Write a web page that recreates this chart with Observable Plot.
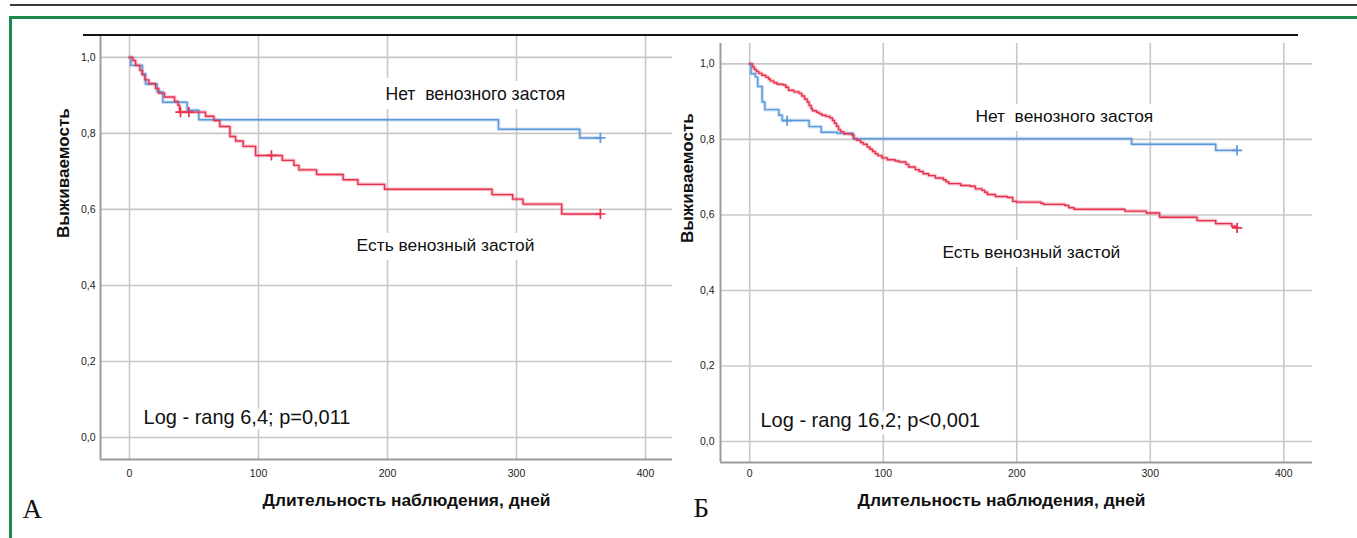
<!DOCTYPE html>
<html><head><meta charset="utf-8">
<script src="https://cdn.jsdelivr.net/npm/d3@7"></script>
<script src="https://cdn.jsdelivr.net/npm/@observablehq/plot@0.6"></script>
<style>
body{margin:0;background:#fff;}
#wrap{position:relative;width:1357px;height:538px;overflow:hidden;background:#fff;}
.abs{position:absolute;}
svg text{white-space:pre;}
</style></head><body>
<div id="wrap">
 <div id="pA" class="abs" style="left:0;top:0"></div>
 <div id="pB" class="abs" style="left:680px;top:0"></div>
 <div class="abs" style="left:10px;top:4px;width:1347px;height:2px;background:#3a3a3a"></div>
 <div class="abs" style="left:9px;top:16px;width:1348px;height:3px;background:#1b8a4c"></div>
 <div class="abs" style="left:9px;top:16px;width:3px;height:530px;background:#1b8a4c"></div>
 <div class="abs" style="left:83px;top:34px;width:1215px;height:2px;background:#111"></div>
</div>
<script>
// ---- data ----
const xTicks = [0, 100, 200, 300, 400];
const yTicks = [0, 0.2, 0.4, 0.6, 0.8, 1.0];
const xLabel = "Длительность наблюдения, дней";
const yLabel = "Выживаемость";
const seriesNames = ["Нет  венозного застоя", "Есть венозный застой"];

// Panel A
const aNoTime = [0, 1, 10, 12.4, 21.4, 25.8, 44.7, 53.7, 286, 349, 365];
const aNoSurv = [1, 0.979, 0.957, 0.930, 0.909, 0.882, 0.861, 0.836, 0.811, 0.788, 0.788];
const aNoCensTime = [365];
const aNoCensSurv = [0.788];
const aYesTime = [0, 2.6, 4.7, 8, 9.8, 11.9, 15, 20.2, 22.7, 27.1, 34.9, 37.5, 38.8, 58.9, 65.4, 70, 77.8, 82.2, 88.1, 97.7, 118.4, 127.4, 131.3, 145, 165.6, 177, 197.7, 281, 297, 305, 335, 365];
const aYesSurv = [1, 0.992, 0.979, 0.966, 0.954, 0.941, 0.931, 0.918, 0.906, 0.896, 0.884, 0.874, 0.856, 0.845, 0.834, 0.818, 0.792, 0.780, 0.766, 0.742, 0.729, 0.716, 0.704, 0.692, 0.678, 0.666, 0.653, 0.639, 0.627, 0.614, 0.588, 0.588];
const aYesCensTime = [39.5, 46, 110, 365];
const aYesCensSurv = [0.856, 0.856, 0.742, 0.588];
const aStat = "Log - rang 6,4; p=0,011";
const aLetter = "А";
const aAnnTime = [198.4, 176];   // label anchors in data units
const aAnnSurv = [0.904, 0.506];
const aStatTime = [10.9], aStatSurv = [0.051];

// Panel B
const bNoTime = [0, 1, 4.3, 6, 9.3, 11.3, 21.8, 24.3, 44.5, 53.5, 65.5, 77.6, 286, 349, 365];
const bNoSurv = [1, 0.974, 0.965, 0.940, 0.899, 0.879, 0.864, 0.850, 0.834, 0.819, 0.816, 0.802, 0.787, 0.771, 0.771];
const bNoCensTime = [28, 365];
const bNoCensSurv = [0.850, 0.771];
const bYesTime = [0, 2, 3.5, 5, 6.7, 9, 12, 14, 15.5, 18, 20.5, 25, 27, 29, 33, 37, 39, 41, 43, 44.5, 46, 47, 50, 52, 54, 57, 60, 62, 63.5, 65, 66.5, 68, 70.5, 76.7, 78, 80, 83, 85, 88, 90, 92, 94, 96, 99, 103, 109, 112, 117, 119, 124, 127, 130, 134, 139, 145, 147, 149, 158, 165, 169, 174, 176, 178, 184, 193, 197, 200, 218, 220, 236, 239, 243, 281, 297, 307, 335, 349, 361, 364, 365];
const bYesSurv = [1, 0.992, 0.985, 0.98, 0.975, 0.970, 0.965, 0.96, 0.955, 0.95, 0.946, 0.944, 0.938, 0.930, 0.926, 0.922, 0.915, 0.907, 0.899, 0.89, 0.882, 0.876, 0.872, 0.868, 0.864, 0.861, 0.857, 0.850, 0.843, 0.835, 0.826, 0.820, 0.815, 0.811, 0.802, 0.798, 0.792, 0.787, 0.780, 0.774, 0.768, 0.762, 0.757, 0.751, 0.746, 0.743, 0.740, 0.734, 0.727, 0.720, 0.715, 0.709, 0.704, 0.698, 0.693, 0.688, 0.683, 0.678, 0.676, 0.669, 0.665, 0.660, 0.654, 0.649, 0.646, 0.636, 0.634, 0.631, 0.628, 0.625, 0.619, 0.615, 0.610, 0.605, 0.594, 0.585, 0.577, 0.570, 0.566, 0.566];
const bYesCensTime = [365];
const bYesCensSurv = [0.566];
const bStat = "Log - rang 16,2; p<0,001";
const bLetter = "Б";
const bAnnTime = [169, 144.3];
const bAnnSurv = [0.862, 0.502];
const bStatTime = [8], bStatSurv = [0.0548];

// ---- font sizing (Arial-metric sans, sized to the reference text widths) ----
const FAMILY = "'Liberation Sans', Arial, sans-serif";
const ctx = document.createElement("canvas").getContext("2d");
function fit(text, weight, targetWidth) {
  ctx.font = `${weight} 100px ${FAMILY}`;
  return 100 * targetWidth / ctx.measureText(text).width;
}

// ---- drawing ----
const BLUE = "#5b97d9", RED = "#e8314f";
const pts = (t, s) => t.map((d, i) => ({t: d, s: s[i]}));
const yFmt = d => d.toFixed(1).replace(".", ",");

function panel(cfg) {
  const no = pts(cfg.noT, cfg.noS), yes = pts(cfg.yesT, cfg.yesS);
  const noC = pts(cfg.noCT, cfg.noCS), yesC = pts(cfg.yesCT, cfg.yesCS);
  const ann = seriesNames.map((n, i) => ({t: cfg.annT[i], s: cfg.annS[i], label: n}));
  const gridStyle = {stroke: "#c8c8c8", strokeOpacity: 1, strokeWidth: 1.6};
  const lineOpts = (c, w, o) => ({x: "t", y: "s", curve: "step-after", stroke: c, strokeWidth: w, strokeOpacity: o});
  const annText = (d, w) => Plot.text([d], {x: "t", y: "s", text: "label", textAnchor: "start", lineAnchor: "middle",
      fontSize: fit(d.label, "normal", w), fill: "#111", stroke: "white", strokeWidth: 18, strokeLinejoin: "round"});
  return Plot.plot({
    width: cfg.width, height: 538,
    marginLeft: cfg.ml, marginRight: cfg.mr, marginTop: cfg.mt, marginBottom: cfg.mb,
    x: {domain: cfg.xDom, axis: null},
    y: {domain: cfg.yDom, axis: null},
    style: {fontFamily: FAMILY, fontSize: "11px", color: "#222", background: "transparent", overflow: "visible"},
    marks: [
      Plot.gridX(xTicks, gridStyle),
      Plot.gridY(yTicks, gridStyle),
      Plot.ruleX([cfg.xDom[0]], {stroke: "#9c9c9c", strokeWidth: 2}),
      Plot.ruleY([cfg.yDom[0]], {stroke: "#9c9c9c", strokeWidth: 2}),
      Plot.axisX(xTicks, {tickSize: 0, tickPadding: cfg.xPad, tickFormat: d => String(d), label: null, fontSize: 10.5}),
      Plot.axisY(yTicks, {tickSize: 0, tickPadding: cfg.yPad, tickFormat: yFmt, label: null, fontSize: 10.5}),
      annText(ann[0], cfg.annW[0]),
      annText(ann[1], cfg.annW[1]),
      Plot.text([{t: cfg.statT[0], s: cfg.statS[0], label: cfg.stat}], {x: "t", y: "s", text: "label", textAnchor: "start", lineAnchor: "middle",
        fontSize: fit(cfg.stat, "normal", cfg.statW), fill: "#111", stroke: "white", strokeWidth: 10, strokeLinejoin: "round"}),
      Plot.line(no, lineOpts(BLUE, 3.6, 0.3)),
      Plot.line(yes, lineOpts(RED, 3.6, 0.3)),
      Plot.line(no, lineOpts(BLUE, 1.4, 1)),
      Plot.line(yes, lineOpts(RED, 1.4, 1)),
      Plot.dot(noC, {x: "t", y: "s", symbol: "plus", r: 3.4, stroke: BLUE, strokeWidth: 1.7}),
      Plot.dot(yesC, {x: "t", y: "s", symbol: "plus", r: 3.4, stroke: RED, strokeWidth: 1.7}),
      Plot.text([xLabel], {text: d => d, frameAnchor: "bottom", lineAnchor: "middle", dx: cfg.xlDx, dy: cfg.xlDy,
        fontSize: fit(xLabel, "bold", 288), fontWeight: "bold", fill: "#111"}),
      Plot.text([yLabel], {text: d => d, frameAnchor: "left", lineAnchor: "middle", rotate: -90, dx: cfg.ylDx, dy: -10,
        fontSize: fit(yLabel, "bold", 130), fontWeight: "bold", fill: "#111"}),
      Plot.text([cfg.letter], {text: d => d, frameAnchor: "bottom-left", textAnchor: "start", lineAnchor: "middle", dx: cfg.lDx, dy: cfg.lDy,
        fontSize: 27, fontFamily: "'Liberation Serif', 'DejaVu Serif', serif", fill: "#111"})
    ]
  });
}

document.getElementById("pA").appendChild(panel({
  noT: aNoTime, noS: aNoSurv, noCT: aNoCensTime, noCS: aNoCensSurv,
  yesT: aYesTime, yesS: aYesSurv, yesCT: aYesCensTime, yesCS: aYesCensSurv,
  annT: aAnnTime, annS: aAnnSurv, statT: aStatTime, statS: aStatSurv, stat: aStat, letter: aLetter,
  annW: [180, 178], statW: 207,
  width: 680, ml: 100, mr: 8, mt: 36, mb: 79,
  xDom: [-22.5, 420.9], yDom: [-0.058, 1.055],
  xPad: 10, yPad: 5, xlDx: 20, xlDy: 41, ylDx: -37, lDx: -78, lDy: 50
}));
document.getElementById("pB").appendChild(panel({
  noT: bNoTime, noS: bNoSurv, noCT: bNoCensTime, noCS: bNoCensSurv,
  yesT: bYesTime, yesS: bYesSurv, yesCT: bYesCensTime, yesCS: bYesCensSurv,
  annT: bAnnTime, annS: bAnnSurv, statT: bStatTime, statS: bStatSurv, stat: bStat, letter: bLetter,
  annW: [178, 178], statW: 220,
  width: 677, ml: 40, mr: 45, mt: 43, mb: 76,
  xDom: [-21.9, 421.5], yDom: [-0.0556, 1.054],
  xPad: 7, yPad: 6, xlDx: -15, xlDy: 38, ylDx: -33, lDx: -27, lDy: 46
}));
</script>
</body></html>
